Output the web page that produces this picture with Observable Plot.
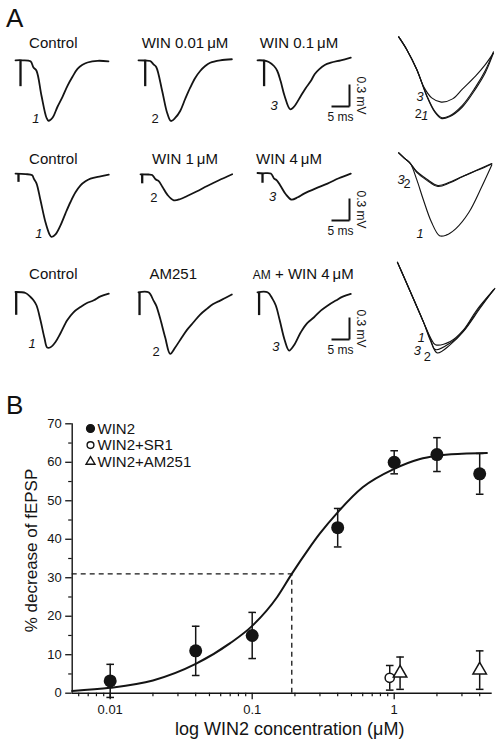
<!DOCTYPE html>
<html><head><meta charset="utf-8">
<script src="https://cdn.jsdelivr.net/npm/d3@7"></script>
<script src="https://cdn.jsdelivr.net/npm/@observablehq/plot@0.6"></script>
<style>
body{margin:0;background:#fff;}
#fig{position:relative;width:501px;height:745px;font-family:"Liberation Sans",Arial,Helvetica,sans-serif;color:#111;overflow:hidden;background:#fff}
.abs{position:absolute;line-height:0}
.t{position:absolute;white-space:nowrap;line-height:1}
svg{overflow:visible}
</style></head><body><div id="fig"></div>
<script>
// ---------------- Panel A data (time in ms, voltage in mV) ----------------
const rowTitles = [
  ["Control", "WIN 0.01\u2009\u03bcM", "WIN 0.1\u2009\u03bcM"],
  ["Control", "WIN 1\u2009\u03bcM", "WIN 4\u2009\u03bcM"],
  ["Control", "AM251", "AM + WIN 4\u2009\u03bcM"]
];
const traceLabels = ["1", "2", "3"];

const r1Control = [[0,0],[1.94,0],[4.17,-0.014],[5.0,-0.098],[5.83,-0.143],[7.22,-0.484],[8.61,-0.784],[9.17,-0.825],[10.28,-0.784],[11.67,-0.634],[13.06,-0.498],[14.44,-0.348],[15.83,-0.225],[17.22,-0.116],[18.61,-0.061],[20.0,-0.030],[22.78,-0.007],[25.83,-0.014]];
const r1Win001 = [[0,0],[1.86,-0.003],[3.25,-0.01],[4.17,-0.055],[4.92,-0.091],[6.58,-0.419],[7.97,-0.719],[9.0,-0.828],[10.19,-0.787],[11.58,-0.692],[12.97,-0.528],[14.36,-0.374],[15.75,-0.241],[17.14,-0.146],[18.53,-0.078],[19.92,-0.033],[22.69,0],[25.94,0.014]];
const r1Win01 = [[0,0],[1.75,-0.003],[3.14,-0.023],[4.58,-0.078],[5.5,-0.146],[6.42,-0.283],[7.53,-0.487],[9.06,-0.668],[10.08,-0.637],[12.03,-0.487],[13.42,-0.378],[14.81,-0.283],[15.92,-0.187],[17.11,-0.123],[18.69,-0.064],[20.36,-0.033],[23.14,0],[25.92,0.035]];
const r2Control = [[0,0.01],[2.78,0.003],[4.64,-0.014],[5.08,-0.059],[5.83,-0.123],[6.94,-0.355],[8.33,-0.655],[9.44,-0.819],[10.0,-0.855],[11.11,-0.819],[12.5,-0.696],[13.89,-0.532],[15.28,-0.378],[16.67,-0.246],[18.06,-0.15],[19.44,-0.095],[20.83,-0.059],[23.61,-0.027],[25.92,-0.004]];
const r2Win1 = [[0,0],[2.22,-0.003],[3.25,-0.01],[4.17,-0.068],[5.0,-0.091],[6.11,-0.173],[7.5,-0.282],[9.25,-0.355],[11.11,-0.337],[12.97,-0.296],[15.56,-0.235],[18.53,-0.16],[21.67,-0.085],[25.47,0]];
const r2Win4 = [[0,0.004],[1.47,0],[3.69,-0.004],[4.61,-0.072],[5.36,-0.096],[6.47,-0.177],[7.86,-0.286],[9.44,-0.359],[11.19,-0.327],[12.94,-0.277],[16.19,-0.205],[19.44,-0.141],[22.58,-0.068],[25.92,-0.004]];
const r3Control = [[0,0.004],[2.78,-0.01],[4.17,-0.064],[5.0,-0.109],[5.83,-0.177],[6.94,-0.382],[8.06,-0.628],[8.81,-0.754],[9.72,-0.75],[11.11,-0.678],[12.5,-0.559],[14.36,-0.382],[16.11,-0.273],[18.06,-0.201],[19.72,-0.15],[21.75,-0.109],[23.61,-0.055],[25.92,-0.018]];
const r3AM251 = [[0,0],[2.78,0],[4.17,-0.113],[4.92,-0.181],[6.03,-0.359],[7.42,-0.618],[8.81,-0.84],[10.19,-0.754],[12.06,-0.614],[13.53,-0.509],[15.28,-0.409],[17.14,-0.304],[19.0,-0.226],[20.75,-0.161],[22.69,-0.113],[24.36,-0.072],[25.94,-0.031]];
const r3AMWin4 = [[0,0],[2.78,0],[4.17,-0.09],[5.08,-0.181],[6.19,-0.386],[7.58,-0.658],[8.78,-0.795],[10.08,-0.727],[12.03,-0.546],[13.69,-0.427],[15.72,-0.341],[17.58,-0.25],[19.44,-0.182],[21.75,-0.113],[23.69,-0.059],[25.92,-0.022]];
// stimulus artifact: [time ms, depth mV]
const stimArtifacts = [
  [[1.39,-0.36],[1.86,-0.36],[1.83,-0.36]],
  [[0.83,-0.11],[0.47,-0.13],[1.39,-0.136]],
  [[0.19,-0.314],[0.28,-0.318],[0.44,-0.318]]
];
// superimposed (magnified) traces, column 4
const ov1T1 = [[0.04,-0.007],[1.21,-0.14],[2.6,-0.34],[3.99,-0.607],[5.14,-0.773],[6.07,-0.84],[7.22,-0.823],[9.07,-0.723],[10.93,-0.54],[12.32,-0.373],[13.47,-0.173]];
const ov1T2 = [[0.04,-0.007],[1.21,-0.14],[2.6,-0.34],[3.99,-0.6],[5.14,-0.765],[6.07,-0.83],[7.22,-0.815],[9.07,-0.707],[10.93,-0.52],[12.32,-0.35],[13.47,-0.16]];
const ov1T3 = [[0.04,-0.007],[1.21,-0.14],[2.6,-0.34],[3.61,-0.52],[4.72,-0.63],[6.07,-0.673],[7.68,-0.64],[9.07,-0.54],[10.93,-0.407],[12.32,-0.29],[13.47,-0.173]];
const ov2T1 = [[0.04,-0.007],[0.83,-0.06],[1.67,-0.113],[2.6,-0.28],[3.51,-0.48],[4.68,-0.713],[5.83,-0.853],[6.76,-0.847],[8.15,-0.78],[10.0,-0.613],[11.85,-0.347],[13.24,-0.13]];
const ov2T2 = [[0.04,-0.007],[0.83,-0.06],[1.67,-0.113],[2.6,-0.197],[3.99,-0.273],[5.6,-0.34],[7.22,-0.307],[9.07,-0.247],[11.39,-0.18],[13.24,-0.12]];
const ov2T3 = [[0.04,-0.007],[0.83,-0.06],[1.67,-0.113],[2.6,-0.205],[3.99,-0.285],[5.6,-0.35],[7.22,-0.315],[9.07,-0.25],[11.39,-0.175],[13.24,-0.115]];
const ov3T1 = [[0,0],[0.92,-0.15],[2.31,-0.38],[3.69,-0.61],[4.63,-0.76],[5.32,-0.83],[7.4,-0.797],[9.25,-0.68],[11.11,-0.48],[13.65,-0.263]];
const ov3T2 = [[0,0],[0.92,-0.15],[2.31,-0.38],[3.69,-0.61],[4.63,-0.79],[5.56,-0.913],[7.4,-0.83],[9.25,-0.697],[11.57,-0.463],[13.42,-0.28]];
const ov3T3 = [[0,0],[0.92,-0.15],[2.31,-0.38],[3.69,-0.61],[4.63,-0.775],[5.32,-0.88],[7.4,-0.813],[9.25,-0.69],[11.33,-0.473],[13.56,-0.273]];
const scaleBar = {ms: 5, mV: 0.3};

// ---------------- Panel B data ----------------
const win2Conc = [0.01, 0.04, 0.1, 0.4, 1, 2, 4];
const win2Mean = [3.2, 11, 15, 43, 60, 62, 57];
const win2Err  = [4.3, 6.4, 6, 5, 3, 4.4, 5.3];
const sr1Conc = [0.93];
const sr1Mean = [4];
const sr1Err  = [3.2];
const am251Conc = [1.1, 4];
const am251Mean = [5.2, 6];
const am251Err  = [4.2, 5];
const fitConc = [0.0054, 0.01, 0.02, 0.04, 0.07, 0.1, 0.15, 0.19, 0.25, 0.3, 0.4, 0.6, 1, 1.5, 2, 3, 4.5];
const fitPct  = [0.6, 1.4, 3.3, 7.6, 13, 17.5, 25, 31, 37.5, 41.5, 47, 53.5, 58.3, 60.8, 61.7, 62.2, 62.4];
const ec50 = 0.19, halfMax = 31;
const xMajor = [0.01, 0.1, 1];
const xTickLabels = ["0.01", "0.1", "1"];
const xMinor = [0.006,0.007,0.008,0.009,0.02,0.03,0.04,0.05,0.06,0.07,0.08,0.09,0.2,0.3,0.4,0.5,0.6,0.7,0.8,0.9,2,3,4];
const yMajor = [0,10,20,30,40,50,60,70];
const yMinor = [5,15,25,35,45,55,65];
const legendLabels = ["WIN2", "WIN2+SR1", "WIN2+AM251"];
const xLabel = "log WIN2 concentration (\u03bcM)";
const yLabel = "% decrease of fEPSP";

// ---------------- rendering ----------------
const FONT = '"Liberation Sans", Arial, Helvetica, sans-serif';
const INK = "#141414";
const fig = document.getElementById("fig");
function place(el, left, top) {
  const w = document.createElement("div");
  w.className = "abs"; w.style.left = left + "px"; w.style.top = top + "px";
  w.appendChild(el); fig.appendChild(w);
}
function addText(html, cx, baseline, size, anchor = "middle") {
  const d = document.createElement("div");
  d.className = "t"; d.innerHTML = html;
  d.style.fontSize = size + "px";
  d.style.top = (baseline - 0.8465 * size) + "px";
  d.style.left = cx + "px";
  if (anchor === "middle") d.style.transform = "translateX(-50%)";
  fig.appendChild(d);
}

// layout (pixels)
const MS = 3.6, MV = 73.3, PAD = 4, T_SPAN = 27, V_DOM = [-0.95, 0.12];
const traceRows = [[r1Control, r1Win001, r1Win01],[r2Control, r2Win1, r2Win4],[r3Control, r3AM251, r3AMWin4]];
const traceLayout = [
  [{x0:15,y0:59.5,dx:-12.7,dy:-2},{x0:138.3,y0:59.3,dx:-15.7,dy:-2},{x0:256.7,y0:59.3,dx:-16,dy:-3.3}],
  [{x0:15,y0:174,dx:-12.7,dy:-3.4},{x0:140,y0:173.3,dx:-20,dy:-2.6},{x0:256.7,y0:173,dx:-19,dy:-2.6}],
  [{x0:15,y0:292,dx:-15,dy:-4},{x0:138.3,y0:291.7,dx:-14,dy:-2.3},{x0:256.7,y0:291.7,dx:-13.3,dy:-3.3}]
];
const titleLayout = [{b:48, x:[53.3,185,299]},{b:163.3, x:[53.3,185,289]},{b:278.8, x:[53.3,173.3,303.3]}];
const scaleBarCorner = [{x:348.5,y:106},{x:348.5,y:220},{x:348.5,y:339}];

const OMS = 7.2, OMV = 100, OPAD = 3, OT_SPAN = 14.2, OV_DOM = [-0.95, 0.1];
const overlayRows = [[ov1T1, ov1T2, ov1T3],[ov2T1, ov2T2, ov2T3],[ov3T1, ov3T2, ov3T3]];
const overlayLayout = [
  {x0:398, y0:36, off:[[-16.7,-2.3],[-23.4,-4],[-21.7,-5]]},
  {x0:398, y0:152, off:[[-20,-2.3],[-31.6,-2],[-37.6,-6.7]]},
  {x0:396.7, y0:262, off:[[-14.3,-6.7],[-10,3.7],[-18.3,1]]}
];

const baseStyle = {background:"transparent", overflow:"visible", fontFamily: FONT, color: INK};

addText("A", 6, 26.7, 26, "start");
addText("B", 6, 414, 26, "start");

traceRows.forEach((row, r) => {
  row.forEach((trace, c) => {
    const L = traceLayout[r][c];
    const pts = trace.map(([t, v]) => ({t, v}));
    const mn = d3.least(pts, d => d.v);
    const art = stimArtifacts[r][c];
    const label = traceLabels[c];
    const svg = Plot.plot({
      width: 2*PAD + T_SPAN*MS, height: 2*PAD + (V_DOM[1]-V_DOM[0])*MV,
      margin: PAD,
      x: {domain: [0, T_SPAN], axis: null},
      y: {domain: V_DOM, axis: null},
      style: baseStyle,
      marks: [
        Plot.ruleX([{t: art[0], d: art[1]}], {x: "t", y1: () => 0, y2: "d", stroke: INK, strokeWidth: 2.3}),
        Plot.line(pts, {x: "t", y: "v", curve: "catmull-rom", stroke: INK, strokeWidth: 1.8}),
        Plot.text([mn], {x: "t", y: "v", text: () => label, dx: L.dx, dy: L.dy, fontSize: 13,
          fontStyle: label === "2" ? "normal" : "italic", fill: INK})
      ]
    });
    place(svg, L.x0 - PAD, L.y0 - PAD - V_DOM[1]*MV);
    // title
    const T = titleLayout[r];
    let title = rowTitles[r][c];
    if (title.startsWith("AM + ")) title = '<span style="font-size:12px">AM</span> + ' + title.slice(5);
    addText(title, T.x[c], T.b, 15);
  });
  // scale bar
  const C = scaleBarCorner[r];
  const sb = Plot.plot({
    width: 2 + 20 + scaleBar.ms*MS, height: 2 + 18 + scaleBar.mV*MV,
    marginLeft: 2, marginRight: 20, marginTop: 2, marginBottom: 18,
    x: {domain: [0, scaleBar.ms], axis: null},
    y: {domain: [0, scaleBar.mV], axis: null},
    style: baseStyle,
    marks: [
      Plot.link([scaleBar], {x1: () => 0, x2: d => d.ms, y1: () => 0, y2: () => 0, stroke: INK, strokeWidth: 2}),
      Plot.link([scaleBar], {x1: d => d.ms, x2: d => d.ms, y1: () => 0, y2: d => d.mV, stroke: INK, strokeWidth: 2}),
      Plot.text([scaleBar], {x: d => d.ms/2, y: () => 0, text: d => `${d.ms} ms`, dy: 11, fontSize: 12, fill: INK}),
      Plot.text([scaleBar], {x: d => d.ms, y: d => d.mV/2, text: d => `${d.mV} mV`, rotate: 90, dx: 11, fontSize: 12, fill: INK})
    ]
  });
  place(sb, C.x - scaleBar.ms*MS - 2, C.y - scaleBar.mV*MV - 2);
  // overlay
  const O = overlayLayout[r];
  const marks = [];
  overlayRows[r].forEach((tr, k) => {
    const pts = tr.map(([t, v]) => ({t, v}));
    const mn = d3.least(pts, d => d.v);
    marks.push(Plot.line(pts, {x: "t", y: "v", curve: "catmull-rom", stroke: INK, strokeWidth: 1.15}));
    const label = traceLabels[k];
    marks.push(Plot.text([mn], {x: "t", y: "v", text: () => label, dx: O.off[k][0], dy: O.off[k][1], fontSize: 13,
      fontStyle: label === "2" ? "normal" : "italic", fill: INK}));
  });
  const ov = Plot.plot({
    width: 2*OPAD + OT_SPAN*OMS, height: 2*OPAD + (OV_DOM[1]-OV_DOM[0])*OMV,
    margin: OPAD,
    x: {domain: [0, OT_SPAN], axis: null},
    y: {domain: OV_DOM, axis: null},
    style: baseStyle,
    marks
  });
  place(ov, O.x0 - OPAD, O.y0 - OPAD - OV_DOM[1]*OMV);
});

// ---------------- Panel B ----------------
const win2 = win2Conc.map((c, i) => ({c, m: win2Mean[i], e: win2Err[i]}));
const sr1 = sr1Conc.map((c, i) => ({c, m: sr1Mean[i], e: sr1Err[i]}));
const am251 = am251Conc.map((c, i) => ({c, m: am251Mean[i], e: am251Err[i]}));
const fit = fitConc.map((c, i) => ({c, p: fitPct[i]}));
const xDomain = [0.0054, 4.9];
const cap = {draw(ctx, size) { const r = Math.sqrt(size / Math.PI); ctx.moveTo(-r, 0); ctx.lineTo(r, 0); }};
function errMarks(data) {
  return [
    Plot.ruleX(data, {x: "c", y1: d => d.m - d.e, y2: d => d.m + d.e, stroke: INK, strokeWidth: 1.5}),
    Plot.dot(data, {x: "c", y: d => d.m + d.e, symbol: cap, r: 3.8, stroke: INK, strokeWidth: 1.5, fill: "none"}),
    Plot.dot(data, {x: "c", y: d => d.m - d.e, symbol: cap, r: 3.8, stroke: INK, strokeWidth: 1.5, fill: "none"})
  ];
}
const legendSym = ["circle", "circle", "triangle"];
const legendR = [3.9, 3.4, 3.3];
const legendFill = [INK, "white", "white"];
const legendMarks = [];
legendLabels.forEach((lab, i) => {
  legendMarks.push(Plot.dot([lab], {frameAnchor: "top-left", dx: 18.3, dy: 4.7 + i*16.6, symbol: legendSym[i], r: legendR[i],
    fill: legendFill[i], stroke: INK, strokeWidth: 1.4}));
  legendMarks.push(Plot.text([lab], {frameAnchor: "top-left", dx: 25.3, dy: 4.9 + i*16.6, text: d => d,
    textAnchor: "start", lineAnchor: "middle", fontSize: 15, fill: INK}));
});

const B = Plot.plot({
  width: 501, height: 345,
  marginLeft: 71.7, marginRight: 9.3, marginTop: 23.3, marginBottom: 52.3,
  x: {type: "log", domain: xDomain, label: null},
  y: {domain: [0, 70], label: null},
  style: baseStyle,
  marks: [
    Plot.axisX({ticks: xMinor, tickSize: 3.5, tickFormat: () => "", strokeWidth: 1.2, label: null}),
    Plot.axisX({ticks: xMajor, tickSize: 6.5, tickPadding: 5, tickFormat: d => xTickLabels[xMajor.indexOf(d)], fontSize: 13, strokeWidth: 1.3, label: null}),
    Plot.axisY({ticks: yMinor, tickSize: 3.5, tickFormat: () => "", strokeWidth: 1.2, label: null}),
    Plot.axisY({ticks: yMajor, tickSize: 6.5, tickPadding: 4, fontSize: 13, strokeWidth: 1.3, label: null}),
    Plot.ruleY([0], {stroke: INK, strokeWidth: 1.4}),
    Plot.ruleX([xDomain[0]], {stroke: INK, strokeWidth: 1.4}),
    Plot.ruleY([halfMax], {x1: () => xDomain[0], x2: () => ec50, stroke: INK, strokeWidth: 1.3, strokeDasharray: "5,4"}),
    Plot.ruleX([ec50], {y1: () => 0, y2: () => halfMax, stroke: INK, strokeWidth: 1.3, strokeDasharray: "5,4"}),
    ...errMarks(win2), ...errMarks(sr1), ...errMarks(am251),
    Plot.line(fit, {x: "c", y: "p", curve: "monotone-x", stroke: INK, strokeWidth: 2}),
    Plot.dot(win2, {x: "c", y: "m", r: 6.5, fill: INK}),
    Plot.dot(sr1, {x: "c", y: "m", r: 4.6, fill: "white", stroke: INK, strokeWidth: 1.5}),
    Plot.dot(am251, {x: "c", y: "m", symbol: "triangle", r: 5.0, fill: "white", stroke: INK, strokeWidth: 1.5}),
    ...legendMarks,
    Plot.text([yLabel], {frameAnchor: "left", text: d => d, rotate: -90, dx: -41, dy: -8, textAnchor: "middle", lineAnchor: "middle", fontSize: 17, fill: INK}),
    Plot.text([xLabel], {frameAnchor: "bottom", text: d => d, dx: 7.5, dy: 41.6, textAnchor: "middle", lineAnchor: "bottom", fontSize: 18, fill: INK})
  ]
});
place(B, 0, 400);
</script>
</body></html>
